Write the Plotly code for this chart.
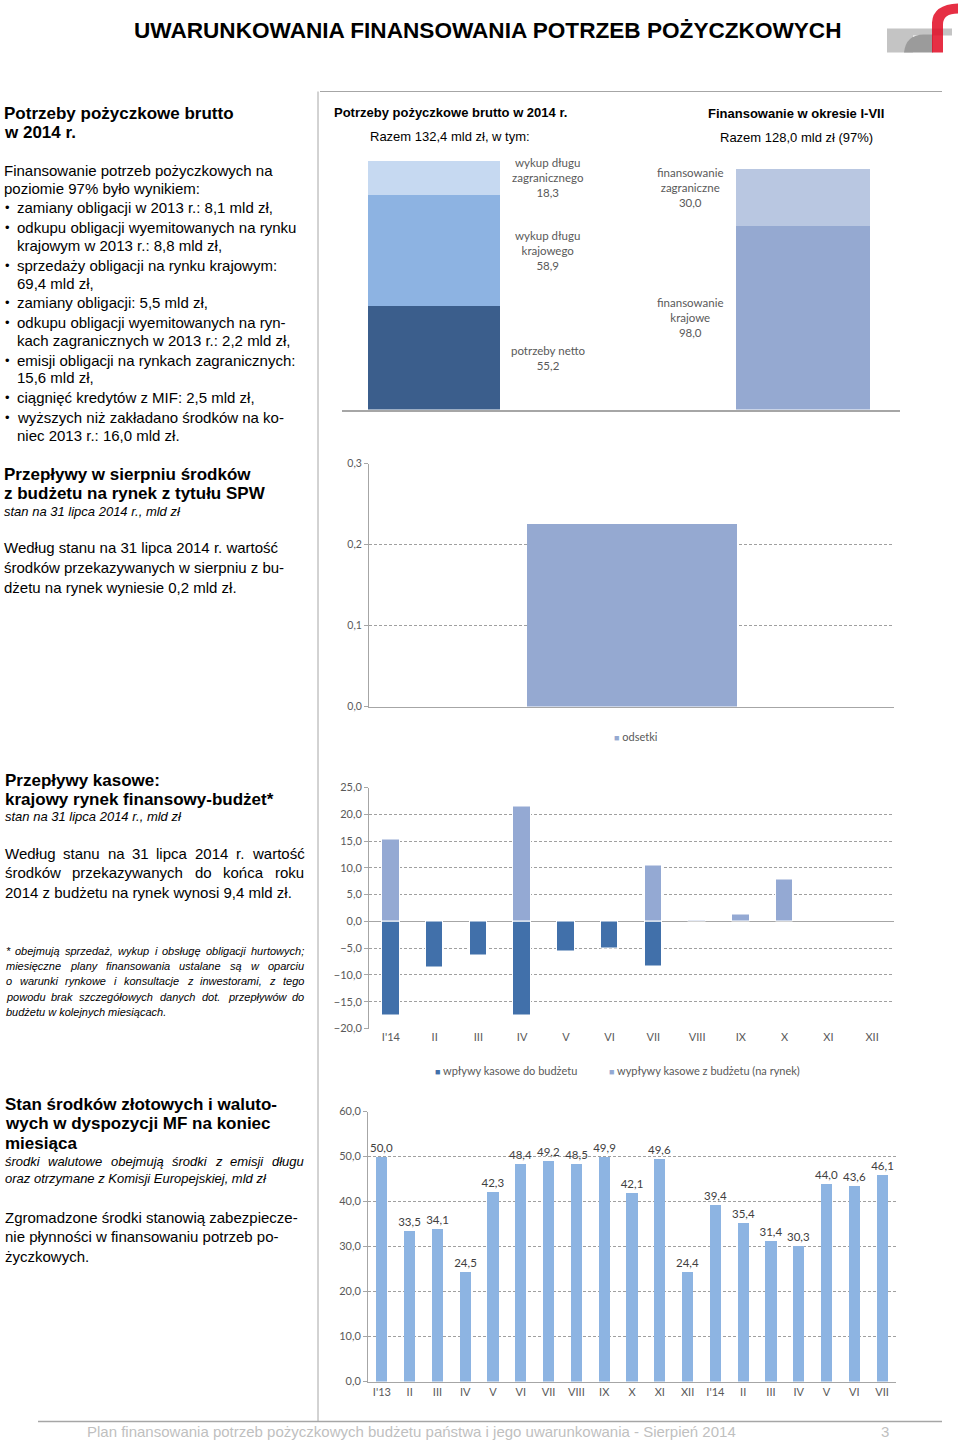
import plotly.graph_objects as go

W, H = 960, 1445
ARIAL = "Liberation Sans, Arial, sans-serif"
CAL = "Lato, Carlito, sans-serif"
GRAY_TXT = "#595959"
AXIS_GRAY = "#A6A6A6"

# ---------------- data ----------------
need_labels = ["potrzeby netto", "wykup długu<br>krajowego", "wykup długu<br>zagranicznego"]
need_values = [55.2, 58.9, 18.3]
need_colors = ["#3B5E8C", "#8DB3E2", "#C6D9F1"]

fin_labels = ["finansowanie<br>krajowe", "finansowanie<br>zagraniczne"]
fin_values = [98.0, 30.0]
fin_colors = ["#95A9D1", "#B9C7E1"]

spw_categories = ["odsetki"]
spw_values = [0.226]

cash_months = ["I'14", "II", "III", "IV", "V", "VI", "VII", "VIII", "IX", "X", "XI", "XII"]
cash_in = [-17.6, -8.6, -6.3, -17.6, -5.7, -5.0, -8.5, None, None, None, None, None]
cash_out = [15.3, None, None, 21.5, None, None, 10.5, 0.25, 1.3, 7.8, None, None]
cash_names = ["wpływy kasowe do budżetu", "wypływy kasowe z budżetu (na rynek)"]

stock_months = ["I'13", "II", "III", "IV", "V", "VI", "VII", "VIII", "IX", "X", "XI", "XII",
                "I'14", "II", "III", "IV", "V", "VI", "VII"]
stock_values = [50.0, 33.5, 34.1, 24.5, 42.3, 48.4, 49.2, 48.5, 49.9, 42.1, 49.6, 24.4,
                39.4, 35.4, 31.4, 30.3, 44.0, 43.6, 46.1]


def fmt(v):
    return f"{v:.1f}".replace(".", ",")


# page-pixel -> paper helpers (small vertical correction for the capture)
Y_OFF, Y_SC = 6.5, 0.991


def P(x):
    return x / W


def Q(y):
    return 1 - ((y - Y_OFF) / Y_SC) / H


# Arial (Liberation Sans) advance widths /1000 em, regular
AW = {' ': 278, ',': 278, '.': 278, ':': 278, ';': 278, '-': 333, '*': 389, '(': 333, ')': 333,
      '%': 889, "'": 191}
for c in "0123456789":
    AW[c] = 556
AW.update(dict(zip("ABCDEFGHIJKLMNOPQRSTUVWXYZ",
                   [667, 667, 722, 722, 667, 611, 778, 722, 278, 500, 667, 556, 833, 722, 778, 667,
                    778, 722, 667, 611, 722, 667, 944, 667, 667, 611])))
AW.update(dict(zip("abcdefghijklmnopqrstuvwxyz",
                   [556, 556, 500, 556, 556, 278, 556, 556, 222, 222, 500, 222, 833, 556, 556, 556,
                    556, 333, 500, 278, 556, 500, 722, 500, 500, 500])))
AW.update({'ą': 556, 'ć': 500, 'ę': 556, 'ł': 222, 'ń': 556, 'ó': 556, 'ś': 500, 'ź': 500, 'ż': 500,
           'Ł': 556, 'Ś': 667, 'Ż': 611})


def text_w(s, size):
    return sum(AW.get(c, 556) for c in s) * size / 1000.0


annotations = []
shapes = []


def txt(s, x, y, size=15, bold=False, italic=False, color="#000000", family=ARIAL, xanchor="left"):
    if bold:
        s = f"<b>{s}</b>"
    if italic:
        s = f"<i>{s}</i>"
    annotations.append(dict(text=s, x=P(x), y=Q(y), xref="paper", yref="paper",
                            xanchor=xanchor, yanchor="middle", showarrow=False,
                            borderpad=0,
                            font=dict(size=size, color=color, family=family)))


def justify(line, x0, x1, y, size=15, italic=False):
    words = line.split(" ")
    ws = [text_w(w, size) for w in words]
    gap = (x1 - x0 - sum(ws)) / (len(words) - 1)
    x = x0
    for w, wd in zip(words, ws):
        txt(w, x, y, size, italic=italic)
        x += wd + gap


def line(x0, y0, x1, y1, color=AXIS_GRAY, width=1):
    shapes.append(dict(type="line", xref="paper", yref="paper", x0=P(x0), y0=Q(y0),
                       x1=P(x1), y1=Q(y1), line=dict(color=color, width=width)))


def path(cmds, color):
    parts = []
    for c, pts in cmds:
        parts.append(c + " " + " ".join(f"{P(px):.5f},{Q(py):.5f}" for px, py in pts))
    shapes.append(dict(type="path", xref="paper", yref="paper", path=" ".join(parts) + " Z",
                       fillcolor=color, line=dict(width=0), layer="above"))


# ---------------- header ----------------
txt("UWARUNKOWANIA FINANSOWANIA POTRZEB POŻYCZKOWYCH", 488, 30, size=22.6, bold=True, xanchor="center")
# logo
path([("M", [(887, 28)]), ("L", [(952, 28)]), ("L", [(952, 35)]), ("L", [(913, 35)]),
      ("L", [(913, 52)]), ("L", [(887, 52)])], "#C4C4C4")
path([("M", [(904, 52)]), ("Q", [(906, 34), (924, 34)]), ("L", [(933, 34)]), ("L", [(933, 52)])],
     "#9B9B9B")
path([("M", [(932, 52)]), ("L", [(932, 22)]), ("Q", [(933, 4), (958, 3)]),
      ("L", [(958, 13)]), ("Q", [(943, 13), (943, 24)]), ("L", [(943, 52)])], "rgba(226,10,35,0.85)")

line(320, 91, 942, 91)
line(318, 91, 318, 1421)
line(38, 1421, 942, 1421, width=1.5)
txt("Plan finansowania potrzeb pożyczkowych budżetu państwa i jego uwarunkowania - Sierpień 2014",
    411, 1431, size=15, color="#BFBFBF", xanchor="center")
txt("3", 885, 1431, size=15, color="#BFBFBF", xanchor="center")

# ---------------- left column ----------------
txt("Potrzeby pożyczkowe brutto", 3, 113, 17, bold=True)
txt("w 2014 r.", 3, 132, 17, bold=True)
txt("Finansowanie potrzeb pożyczkowych na", 3, 170)
txt("poziomie 97% było wynikiem:", 3, 188)
bullets = [
    (207, "zamiany obligacji w 2013 r.: 8,1 mld zł,", True),
    (227, "odkupu obligacji wyemitowanych na rynku", True),
    (245, "krajowym w 2013 r.: 8,8 mld zł,", False),
    (265, "sprzedaży obligacji na rynku krajowym:", True),
    (283, "69,4 mld zł,", False),
    (302, "zamiany obligacji: 5,5 mld zł,", True),
    (322, "odkupu obligacji wyemitowanych na ryn-", True),
    (340, "kach zagranicznych w 2013 r.: 2,2 mld zł,", False),
    (360, "emisji obligacji na rynkach zagranicznych:", True),
    (377, "15,6 mld zł,", False),
    (397, "ciągnięć kredytów z MIF: 2,5 mld zł,", True),
    (417, "wyższych niż zakładano środków na ko-", True),
    (435, "niec 2013 r.: 16,0 mld zł.", False),
]
for y, s, b in bullets:
    if b:
        txt("•", 4, y, 13)
    txt(s, 16, y)

txt("Przepływy w sierpniu środków", 3, 474, 17, bold=True)
txt("z budżetu na rynek z tytułu SPW", 3, 493, 17, bold=True)
txt("stan na 31 lipca 2014 r., mld zł", 3, 511, 13, italic=True)
txt("Według stanu na 31 lipca 2014 r. wartość", 3, 547)
txt("środków przekazywanych w sierpniu z bu-", 3, 567)
txt("dżetu na rynek wyniesie 0,2 mld zł.", 3, 587)

txt("Przepływy kasowe:", 4, 780, 17, bold=True)
txt("krajowy rynek finansowy-budżet*", 4, 799, 17, bold=True)
txt("stan na 31 lipca 2014 r., mld zł", 4, 816, 13, italic=True)
justify("Według stanu na 31 lipca 2014 r. wartość", 4, 303, 853)
justify("środków przekazywanych do końca roku", 4, 303, 872)
txt("2014 z budżetu na rynek wynosi 9,4 mld zł.", 4, 892)
justify("* obejmują sprzedaż, wykup i obsługę obligacji hurtowych;", 5, 303, 950, 11, italic=True)
justify("miesięczne plany finansowania ustalane są w oparciu", 5, 303, 965, 11, italic=True)
justify("o warunki rynkowe i konsultacje z inwestorami, z tego", 5, 303, 980, 11, italic=True)
justify("powodu brak szczegółowych danych dot. przepływów do", 5, 303, 996, 11, italic=True)
txt("budżetu w kolejnych miesiącach.", 5, 1011, 11, italic=True)

txt("Stan środków złotowych i waluto-", 4, 1104, 17, bold=True)
txt("wych w dyspozycji MF na koniec", 4, 1123, 17, bold=True)
txt("miesiąca", 4, 1143, 17, bold=True)
justify("środki walutowe obejmują środki z emisji długu", 4, 303, 1161, 13, italic=True)
txt("oraz otrzymane z Komisji Europejskiej, mld zł", 4, 1178, 13, italic=True)
txt("Zgromadzone środki stanowią zabezpiecze-", 4, 1217)
txt("nie płynności w finansowaniu potrzeb po-", 4, 1236)
txt("życzkowych.", 4, 1256)

# ---------------- chart titles ----------------
txt("Potrzeby pożyczkowe brutto w 2014 r.", 333, 112, 13, bold=True)
txt(f"Razem {fmt(sum(need_values))} mld zł, w tym:", 450, 136, 13, xanchor="center")
txt("Finansowanie w okresie I-VII", 796, 113, 13, bold=True, xanchor="center")
txt(f"Razem {fmt(sum(fin_values))} mld zł (97%)", 796, 137, 13, xanchor="center")

fig = go.Figure()

# ---------------- chart 1: stacked bars ----------------
BW1 = 0.358
for name, v, c in zip(need_labels, need_values, need_colors):
    fig.add_trace(go.Bar(x=[0], y=[v], name=name, marker=dict(color=c, line=dict(width=0)),
                         width=BW1, xaxis="x", yaxis="y", showlegend=False, hoverinfo="skip"))
for name, v, c in zip(fin_labels, fin_values, fin_colors):
    fig.add_trace(go.Bar(x=[1], y=[v], name=name, marker=dict(color=c, line=dict(width=0)),
                         width=BW1 + 0.005, xaxis="x", yaxis="y", showlegend=False, hoverinfo="skip"))

cum = 0
for name, v in zip(need_labels, need_values):
    annotations.append(dict(text=f"{name}<br>{fmt(v)}", x=0.309, y=cum + v / 2, xref="x", yref="y",
                            showarrow=False, xanchor="center", yanchor="middle",
                            font=dict(size=11.5, color=GRAY_TXT, family=CAL)))
    cum += v
cum = 0
for i, (name, v) in enumerate(zip(fin_labels, fin_values)):
    yy = cum + v / 2 + (5 if i == 1 else 0)
    annotations.append(dict(text=f"{name}<br>{fmt(v)}", x=1 - 0.306, y=yy, xref="x", yref="y",
                            showarrow=False, xanchor="center", yanchor="middle",
                            font=dict(size=11.5, color=GRAY_TXT, family=CAL)))
    cum += v

# ---------------- chart 2: SPW ----------------
fig.add_trace(go.Bar(x=[0], y=spw_values, name=spw_categories[0], width=0.4,
                     marker=dict(color="#95A9D1", line=dict(width=0)),
                     xaxis="x2", yaxis="y2", showlegend=False, hoverinfo="skip"))
txt(f'<span style="color:#95A9D1;font-size:9px">■</span> {spw_categories[0]}', 613, 736, 11,
    color=GRAY_TXT, family=CAL)

# ---------------- chart 3: cash flows ----------------
fig.add_trace(go.Bar(x=list(range(len(cash_months))), y=cash_in, name=cash_names[0], width=0.4,
                     marker=dict(color="#4170AA", line=dict(width=1, color="#FFFFFF")),
                     xaxis="x3", yaxis="y3", showlegend=False, hoverinfo="skip"))
fig.add_trace(go.Bar(x=list(range(len(cash_months))), y=cash_out, name=cash_names[1], width=0.4,
                     marker=dict(color="#94A9D3", line=dict(width=1, color="#FFFFFF")),
                     xaxis="x3", yaxis="y3", showlegend=False, hoverinfo="skip"))
txt(f'<span style="color:#4170AA;font-size:9px">■</span> {cash_names[0]}', 434, 1070, 11,
    color=GRAY_TXT, family=CAL)
txt(f'<span style="color:#94A9D3;font-size:9px">■</span> {cash_names[1]}', 608, 1070, 11,
    color=GRAY_TXT, family=CAL)

# ---------------- chart 4: stocks ----------------
fig.add_trace(go.Bar(x=list(range(len(stock_months))), y=stock_values, width=0.4,
                     marker=dict(color="#8DB4E2", line=dict(width=0)),
                     text=[fmt(v) for v in stock_values], textposition="outside",
                     constraintext="none",
                     textfont=dict(size=11.5, color="#404040", family=CAL), cliponaxis=False,
                     xaxis="x4", yaxis="y4", showlegend=False, hoverinfo="skip"))

tickfont = dict(size=11, color=GRAY_TXT, family=CAL)
grid = dict(showgrid=True, gridcolor="#A0A0A0", griddash="3px,2px", gridwidth=1)

fig.update_layout(
    width=W, height=H, margin=dict(l=0, r=0, t=0, b=0, pad=0),
    paper_bgcolor="white", plot_bgcolor="rgba(0,0,0,0)",
    barmode="relative", bargap=0, separators=", ",
    showlegend=False,
    xaxis=dict(domain=[P(342), P(900)], range=[-0.249, 1.263], showline=True, linecolor=AXIS_GRAY,
               linewidth=1.5, showticklabels=False, ticks="", showgrid=False, zeroline=False,
               anchor="y", fixedrange=True),
    yaxis=dict(domain=[Q(409), Q(160)], range=[0, sum(need_values)], visible=False, anchor="x",
               fixedrange=True),
    xaxis2=dict(domain=[P(369), P(894)], range=[-0.5, 0.5], showline=True, linecolor=AXIS_GRAY,
                showticklabels=False, ticks="", showgrid=False, zeroline=False, anchor="y2"),
    yaxis2=dict(domain=[Q(706), Q(463)], range=[0, 0.3], dtick=0.1, tickformat=".1f",
                showline=True, linecolor=AXIS_GRAY, ticks="outside", ticklen=4, tickcolor=AXIS_GRAY,
                tickfont=dict(size=10.5, color=GRAY_TXT, family=CAL), zeroline=False,
                anchor="x2", **grid),
    xaxis3=dict(domain=[P(369), P(894)], range=[-0.5, len(cash_months) - 0.5],
                tickvals=list(range(len(cash_months))), ticktext=cash_months, tickfont=tickfont,
                showline=False, ticks="", showgrid=False, zeroline=False, anchor="y3"),
    yaxis3=dict(domain=[Q(1028), Q(787)], range=[-20, 25], dtick=5, tickformat=".1f",
                showline=True, linecolor=AXIS_GRAY, ticks="outside", ticklen=4, tickcolor=AXIS_GRAY,
                tickfont=tickfont, zeroline=True, zerolinecolor=AXIS_GRAY, zerolinewidth=1,
                anchor="x3", **grid),
    xaxis4=dict(domain=[P(368), P(896)], range=[-0.5, len(stock_months) - 0.5],
                tickvals=list(range(len(stock_months))), ticktext=stock_months, tickfont=tickfont,
                showline=True, linecolor=AXIS_GRAY, ticks="", showgrid=False, zeroline=False,
                anchor="y4"),
    yaxis4=dict(domain=[Q(1381), Q(1111)], range=[0, 60], dtick=10, tickformat=".1f",
                showline=True, linecolor=AXIS_GRAY, ticks="outside", ticklen=4, tickcolor=AXIS_GRAY,
                tickfont=tickfont, zeroline=False, anchor="x4", **grid),
    annotations=annotations,
    shapes=shapes,
)

fig.write_html(
    "out.html",
    config={"displayModeBar": False, "responsive": False},
    post_script=("document.documentElement.style.margin='0';"
                 "document.body.style.margin='0';document.body.style.padding='0';"
                 "document.documentElement.style.overflow='hidden';"),
)
